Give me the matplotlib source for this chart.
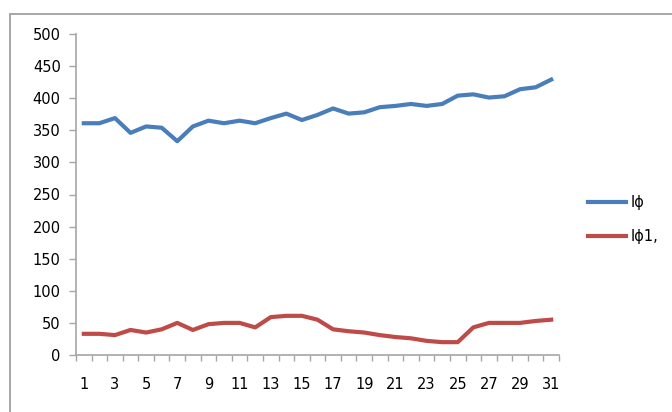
import numpy as np
import matplotlib.pyplot as plt
from matplotlib.patches import Rectangle

# daily readings, days 1..31
days = list(range(1, 32))
i_phi = [361, 361, 369, 346, 356, 354, 333, 356, 365, 361, 365, 361, 369, 376, 366,
         374, 384, 376, 378, 386, 388, 391, 388, 391, 404, 406, 401, 403, 414, 417, 429]
i_phi1 = [33, 33, 31, 39, 35, 40, 50, 39, 48, 50, 50, 43, 59, 61, 61,
          55, 40, 37, 35, 31, 28, 26, 22, 20, 20, 43, 50, 50, 50, 53, 55]
y_ticks = list(range(0, 501, 50))
x_labels = list(range(1, 32, 2))

plt.rcParams['font.family'] = 'DejaVu Sans'
fs = 10.5
axis_grey = '#a6a6a6'

fig = plt.figure(figsize=(6.72, 4.12), dpi=100)

# chart area border (left and top edges visible)
fig.patches.append(Rectangle((10 / 672, -0.05), 1.0, 1 - 14 / 412 + 0.05,
                             transform=fig.transFigure, fill=False,
                             edgecolor='#a0a0a0', lw=1.3))

ax = fig.add_axes([76 / 672, 57 / 412, 483 / 672, 321 / 412])
ax.plot(days, i_phi, color='#4a7ebb', lw=3.0, label='Iϕ', solid_joinstyle='round')
ax.plot(days, i_phi1, color='#be4b48', lw=3.0, label='Iϕ1,', solid_joinstyle='round')

ax.set_xlim(0.5, 31.5)
ax.set_ylim(0, 500)
ax.set_yticks(y_ticks)
ax.set_xticks(x_labels)
ax.set_xticks(np.arange(0.5, 32, 1), minor=True)
ax.tick_params(axis='x', which='major', length=0, pad=16, labelsize=fs)
ax.tick_params(axis='x', which='minor', length=4, width=1, color=axis_grey, direction='out')
ax.tick_params(axis='y', length=5, width=1, color=axis_grey, pad=6, labelsize=fs)

for s in ('top', 'right'):
    ax.spines[s].set_visible(False)
for s in ('left', 'bottom'):
    ax.spines[s].set_color(axis_grey)
    ax.spines[s].set_linewidth(1.2)

fig.legend(loc='upper left', bbox_to_anchor=(575 / 672, 1 - 182 / 412),
           frameon=False, fontsize=fs, handlelength=2.6, handletextpad=0.3,
           labelspacing=1.3)

fig.savefig('out.png', dpi=100)
